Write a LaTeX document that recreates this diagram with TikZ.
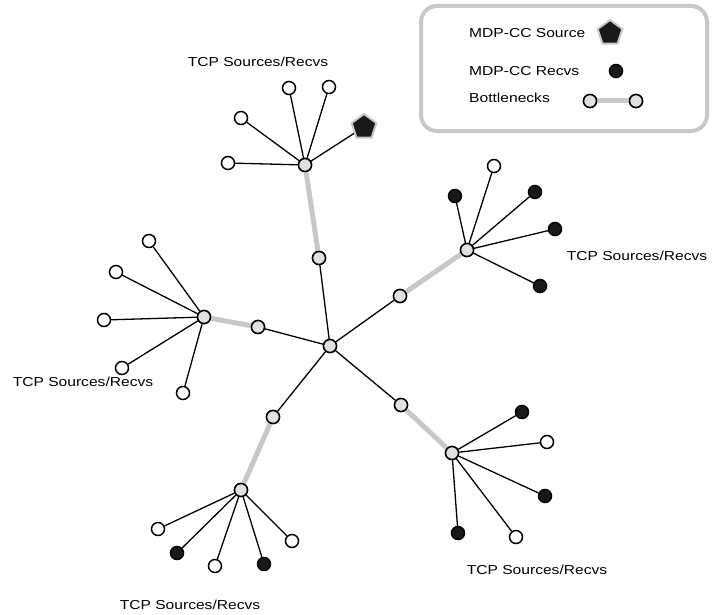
\documentclass[tikz,border=0pt]{standalone}
\usepackage{fontspec}
\setmainfont{Liberation Sans}
\newfontfamily\widefont[FakeStretch=1.2]{Liberation Sans}
\usetikzlibrary{shapes.geometric}
\definecolor{neckgray}{RGB}{200,200,200}
\definecolor{hubgray}{RGB}{225,225,225}
\tikzset{
  host/.style={circle, draw, line width=1.5pt, fill=white, inner sep=0, minimum size=13pt},
  mdp/.style={host, fill=black!90},
  hub/.style={host, fill=hubgray},
  src/.style={regular polygon, regular polygon sides=5, draw=neckgray, line width=2pt, fill=black!90, inner sep=0, minimum size=26pt},
  link/.style={line width=1.3pt},
  neck/.style={line width=5pt, draw=neckgray},
  lbl/.style={font=\widefont\fontsize{13}{15}\selectfont, inner sep=0}
}
\begin{document}
\begin{tikzpicture}[x=1pt,y=-1pt]
\useasboundingbox (0,0) rectangle (722,615);
% legend
\draw[neckgray, line width=4pt, rounded corners=16pt] (421,6) rectangle (707,131);
\node[lbl, anchor=west](Lsrc)at(469,33){MDP-CC Source};
\node[src](Lpent)at(610,33){};
\node[lbl, anchor=west](Lrcv)at(469,71){MDP-CC Recvs};
\node[mdp](Ldot)at(616,71){};
\node[lbl, anchor=west](Lneck)at(469,98){Bottlenecks};
\node[hub](La)at(590,101){};
\node[hub](Lb)at(636,101){};
\draw[neck](La)--(Lb);
\node[hub](La)at(590,101){};
\node[hub](Lb)at(636,101){};
% core
\node[hub](C)at(330,346){};
\node[hub](Tm)at(319,258){};
\node[hub](Rm)at(400,296){};
\node[hub](Lm)at(258,327){};
\node[hub](BRm)at(401,405){};
\node[hub](BLm)at(273,417){};
\foreach \m in {Tm,Rm,Lm,BRm,BLm}
  \draw[link](C)--(\m);
% top cluster
\node[hub](T)at(305,165){};
\draw[neck](T)--(Tm);
\node[host](T1)at(228,163){};
\node[host](T2)at(241,118){};
\node[host](T3)at(289,88){};
\node[host](T4)at(329,87){};
\node[src](T5)at(364,127){};
\foreach \n in {T1,T2,T3,T4,T5}
  \draw[link](T)--(\n);
\node[lbl](Tl)at(258,62){TCP Sources/Recvs};
% right cluster
\node[hub](R)at(467,250){};
\draw[neck](R)--(Rm);
\node[mdp](R1)at(455,196){};
\node[host](R2)at(494,166){};
\node[mdp](R3)at(535,192){};
\node[mdp](R4)at(555,229){};
\node[mdp](R5)at(540,286){};
\foreach \n in {R1,R2,R3,R4,R5}
  \draw[link](R)--(\n);
\node[lbl](Rl)at(637,256){TCP Sources/Recvs};
% left cluster
\node[hub](L)at(204,317){};
\draw[neck](L)--(Lm);
\node[host](L1)at(149,241){};
\node[host](L2)at(116,272){};
\node[host](L3)at(104,320){};
\node[host](L4)at(122,368){};
\node[host](L5)at(183,393){};
\foreach \n in {L1,L2,L3,L4,L5}
  \draw[link](L)--(\n);
\node[lbl](Ll)at(83,382){TCP Sources/Recvs};
% bottom right cluster
\node[hub](BR)at(452,453){};
\draw[neck](BR)--(BRm);
\node[mdp](BR1)at(522,412){};
\node[host](BR2)at(547,442){};
\node[mdp](BR3)at(545,496){};
\node[mdp](BR4)at(458,533){};
\node[host](BR5)at(516,537){};
\foreach \n in {BR1,BR2,BR3,BR4,BR5}
  \draw[link](BR)--(\n);
\node[lbl](BRl)at(537,570){TCP Sources/Recvs};
% bottom left cluster
\node[hub](BL)at(241,490){};
\draw[neck](BL)--(BLm);
\node[host](BL1)at(158,529){};
\node[mdp](BL2)at(177,553){};
\node[host](BL3)at(215,566){};
\node[mdp](BL4)at(264,564){};
\node[host](BL5)at(292,541){};
\foreach \n in {BL1,BL2,BL3,BL4,BL5}
  \draw[link](BL)--(\n);
\node[lbl](BLl)at(190,605){TCP Sources/Recvs};
% redraw ends on top of links
\foreach \n in {Tm,Rm,Lm,BRm,BLm,C,T,R,L,BR,BL}
  \node[hub]at(\n){};
\end{tikzpicture}
\end{document}
